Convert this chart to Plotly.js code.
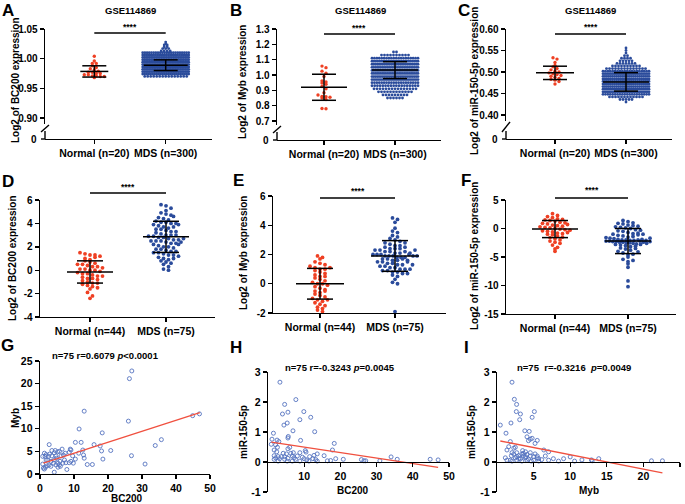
<!DOCTYPE html>
<html><head><meta charset="utf-8">
<script src="https://cdn.plot.ly/plotly-3.0.1.min.js"></script>
<style>html,body{margin:0;padding:0;background:#fff}#chart{width:685px;height:504px}</style>
</head><body><div id="chart"></div>
<script>
// ================= DATA =================
const datasetTitle = 'GSE114869';
const groupLabelsGSE = ['Normal (n=20)', 'MDS (n=300)'];
const groupLabelsOwn = ['Normal (n=44)', 'MDS (n=75)'];

// A: BC200 (GSE114869)
const aNormal = [1.004,0.996,0.992,0.992,0.988,0.985,0.983,0.981,0.979,0.977,0.977,0.975,0.975,0.973,0.973,0.971,0.971,0.970,0.970,0.968];
const aMdsLevels = [0.970,0.974,0.978,0.982,0.986,0.990,0.994,0.998,1.002,1.006,1.010,1.013,1.017,1.020,1.023,1.025,1.028];
const aMdsCounts = [15,24,28,29,29,29,29,28,28,26,22,4,3,2,2,1,1];
const aMean = [0.9785, 0.989];
const aSD = [0.0095, 0.009];

// B: Myb (GSE114869)
const bNormal = [1.058,1.048,1.025,1.012,0.990,0.962,0.955,0.948,0.940,0.925,0.910,0.885,0.870,0.860,0.858,0.855,0.850,0.840,0.782,0.780];
const bMdsLevels = [0.85,0.87,0.89,0.91,0.93,0.95,0.97,0.99,1.01,1.03,1.05,1.07,1.09,1.11,1.13,1.15];
const bMdsCounts = [6,9,12,15,18,20,24,27,28,28,28,27,26,20,10,2];
const bMean = [0.920, 1.032];
const bSD = [0.085, 0.055];

// C: miR-150-5p (GSE114869)
const cNormal = [0.533,0.530,0.522,0.515,0.512,0.508,0.505,0.502,0.500,0.498,0.496,0.494,0.492,0.490,0.488,0.485,0.483,0.481,0.478,0.472];
const cMdsLevels = [0.430,0.436,0.442,0.448,0.454,0.460,0.466,0.472,0.478,0.484,0.490,0.496,0.502,0.508,0.514,0.520,0.526,0.532,0.538,0.544,0.550,0.556];
const cMdsCounts = [1,5,12,20,24,24,25,25,25,25,25,24,20,14,10,7,5,4,2,1,1,1];
const cMean = [0.498, 0.477];
const cSD = [0.0155, 0.0215];

// D: BC200 (own cohort)
const dNormal = [1.5,1.4,1.3,1.3,1.2,1.0,0.9,0.8,0.7,0.6,0.5,0.5,0.4,0.3,0.3,0.2,0.1,0.1,0.0,0.0,-0.1,-0.2,-0.3,-0.3,-0.4,-0.5,-0.5,-0.6,-0.7,-0.7,-0.8,-0.9,-1.0,-1.1,-1.1,-1.2,-1.3,-1.4,-1.5,-1.6,-1.9,-2.2,-2.4,1.1];
const dMds = [5.6,5.5,5.3,5.1,4.9,4.8,4.7,4.5,4.4,4.3,4.2,4.1,4.1,4.0,3.9,3.8,3.7,3.6,3.5,3.5,3.4,3.3,3.2,3.1,3.0,3.0,2.9,2.9,2.8,2.8,2.7,2.6,2.6,2.5,2.5,2.5,2.4,2.3,2.3,2.2,2.1,2.0,2.0,1.9,1.8,1.8,1.7,1.6,1.5,1.5,1.4,1.3,1.3,1.2,1.1,1.0,0.9,0.8,0.7,0.6,0.5,0.3,0.1,0.0,3.7,3.3,2.7,2.2,4.6,1.6,3.9,3.0,2.4,1.0,4.0];
const dMean = [-0.15, 2.85];
const dSD = [0.95, 1.33];

// E: Myb (own cohort)
const eNormal = [1.9,1.8,1.7,1.5,1.4,1.3,1.2,1.1,1.0,1.0,0.9,0.8,0.7,0.6,0.5,0.4,0.3,0.2,0.1,0.0,0.0,-0.1,-0.2,-0.3,-0.4,-0.5,-0.6,-0.7,-0.8,-0.9,-1.0,-1.1,-1.2,-1.3,-1.4,-1.5,-1.6,-1.7,-1.8,-1.9,0.5,-0.5,1.1,-1.1];
const eMds = [4.5,4.4,4.2,3.8,3.6,3.5,3.3,3.1,3.0,2.9,2.8,2.7,2.6,2.6,2.5,2.4,2.4,2.3,2.3,2.2,2.2,2.1,2.1,2.0,2.0,2.0,1.9,1.9,1.9,1.8,1.8,1.8,1.7,1.7,1.6,1.6,1.5,1.5,1.4,1.4,1.3,1.3,1.2,1.2,1.1,1.1,1.0,1.0,0.9,0.9,0.8,0.8,0.7,0.7,0.6,0.5,0.3,0.1,0.0,-1.9,2.4,2.2,2.0,1.9,1.7,1.5,2.8,3.2,2.5,1.3,2.1,1.9,1.6,1.0,2.3];
const eMean = [0.0, 1.9];
const eSD = [1.05, 1.05];

// F: miR-150-5p (own cohort)
const fNormal = [2.6,2.3,2.1,1.9,1.7,1.6,1.5,1.4,1.3,1.1,1.0,0.9,0.8,0.6,0.5,0.4,0.3,0.2,0.1,0.0,-0.1,-0.2,-0.3,-0.4,-0.5,-0.6,-0.8,-0.9,-1.0,-1.1,-1.3,-1.5,-1.6,-1.8,-2.0,-2.2,-2.4,-2.6,-2.9,-3.3,-3.6,-4.0,0.7,-0.7];
const fMds = [1.4,1.2,1.0,0.9,0.8,0.6,0.5,0.3,0.2,0.1,0.0,-0.2,-0.4,-0.5,-0.7,-0.9,-1.0,-1.2,-1.3,-1.5,-1.6,-1.7,-1.8,-1.9,-2.0,-2.0,-2.1,-2.1,-2.2,-2.2,-2.3,-2.3,-2.4,-2.4,-2.5,-2.5,-2.6,-2.7,-2.8,-2.9,-3.0,-3.2,-3.4,-3.6,-3.8,-4.0,-4.3,-4.6,-5.0,-5.4,-5.8,-6.2,-6.8,-9.2,-10.2,-2.0,-2.2,-2.4,-1.4,-1.1,-0.8,-3.1,-4.5,-5.6,-2.6,-1.9,-0.3,0.4,-3.5,-4.1,-2.3,-2.1,-1.7,-2.8,-1.0];
const fMean = [-0.1, -2.2];
const fSD = [1.5, 2.2];

// G: BC200 vs Myb
const gBC200 = [27.0,26.3,13.0,11.5,26.0,44.9,46.9,18.3,35.7,33.9,26.9,30.9,20.8,18.5,18.1,17.7,15.9,15.4,13.9,13.0,12.8,12.1,10.4,12.6,11.4,10.4,9.1,8.6,8.9,9.8,8.6,7.9,6.9,6.5,5.9,6.0,5.3,5.2,5.7,4.7,4.2,3.5,2.8,2.7,2.5,1.8,1.5,1.3,2.3,3.2,4.2,4.9,7.2,7.6,9.1,0.8,1.0,1.6,2.1,2.7,3.2,4.2,5.7,4.7,6.7,1.3,4.0,5.3,6.2,7.4,9.6,3.5,4.5,1.8,0.8];
const gMyb = [22.8,21.1,13.9,9.96,11.7,12.9,13.3,9.1,7.6,6.3,4.05,2.2,5.2,3.3,5.1,6.2,6.5,2.1,2.1,3.5,4.2,7.0,7.0,5.3,4.6,3.3,5.3,4.8,5.5,2.4,2.5,1.0,4.2,5.5,2.8,1.7,1.5,4.9,5.0,4.0,4.7,4.0,4.4,6.5,3.9,4.3,3.9,4.6,3.1,2.8,3.1,3.5,3.1,2.5,2.8,2.2,1.3,1.5,1.8,2.0,1.7,0.4,2.0,2.0,2.4,1.1,2.4,2.4,4.0,4.6,4.0,5.2,5.2,3.1,3.9];
const gFitX = [1.0, 47.0];
const gFitY = [2.4, 13.6];
const gStat = 'n=75 r=0.6079 <i>p</i>&lt;0.0001';

// H: BC200 vs miR-150-5p
const hBC200 = [3.3,7.7,4.6,9.9,5.5,4.0,11.8,8.8,5.3,4.4,12.9,6.9,5.6,5.5,1.5,1.1,9.0,2.5,3.0,18.3,2.1,6.0,5.5,10.3,17.8,1.7,2.4,4.2,5.1,6.3,7.0,8.8,10.5,12.7,13.6,15.5,1.7,2.8,3.7,4.6,8.1,11.5,2.1,3.2,5.5,7.2,10.0,12.4,13.2,18.7,20.8,25.8,26.5,27.0,30.9,34.0,35.7,44.8,47.0,5.3,6.7,8.8,11.3,13.6,16.4,1.7,4.6,2.8,7.6,10.7,0.9,2.6,6.7,9.5,17.3];
const hMir = [2.66,2.08,1.92,1.68,1.66,1.60,1.49,1.41,1.30,1.23,1.01,1.04,0.85,0.80,0.96,0.76,0.72,0.73,0.68,0.62,0.57,0.49,0.44,0.38,0.40,0.40,0.34,0.29,0.27,0.29,0.31,0.31,0.33,0.22,0.27,0.21,0.21,0.18,0.18,0.18,0.20,0.18,0.14,0.11,0.12,0.14,0.11,0.11,0.08,0.11,0.09,0.08,0.04,0.04,0.04,0.17,0.09,0.09,0.07,0.03,0.03,0.03,0.03,0.03,0.04,0.09,0.09,0.03,0.09,0.07,0.59,0.49,0.20,0.16,0.05];
const hFitX = [0.9, 47.0];
const hFitY = [0.66, -0.18];
const hStat = 'n=75 r=-0.3243 <i>p</i>=0.0045';

// I: Myb vs miR-150-5p
const iMyb = [2.05,2.37,2.68,5.1,2.64,3.2,4.8,3.1,1.91,0.45,3.8,4.4,1.23,4.1,4.8,4.55,5.5,4.3,1.82,5.2,1.6,2.5,1.36,6.4,3.5,3.9,7.05,2.05,2.7,4.55,5.2,2.3,3.4,4.1,1.96,2.96,3.6,5.0,6.6,10.0,1.14,2.5,3.9,5.5,7.7,9.1,13.9,3.2,4.3,6.1,11.6,12.9,1.82,2.7,5.0,7.05,13.0,21.1,22.6,3.4,4.7,5.7,8.4,2.05,4.1,2.96,3.6,2.3,5.7,1.36,4.55,5.5,2.7,3.9,10.6];
const iMir = [2.66,2.09,1.92,1.68,1.68,1.60,1.49,1.41,1.30,1.23,1.04,1.02,0.96,0.84,0.79,0.76,0.72,0.71,0.68,0.62,0.51,0.49,0.40,0.40,0.38,0.34,0.34,0.31,0.31,0.31,0.27,0.26,0.26,0.25,0.21,0.21,0.20,0.18,0.20,0.17,0.14,0.14,0.14,0.14,0.11,0.11,0.11,0.10,0.10,0.08,0.07,0.07,0.06,0.06,0.06,0.06,0.04,0.04,0.04,0.03,0.03,0.03,0.03,0.03,0.06,0.12,0.29,0.46,0.11,0.06,0.20,0.20,0.18,0.18,0.03];
const iFitX = [0.45, 22.6];
const iFitY = [0.70, -0.36];
const iStat = 'n=75\u00a0 r=-0.3216\u00a0 <i>p</i>=0.0049';

// tick values
const aTicks = [0.90,0.95,1.00,1.05];
const bTicks = [0.7,0.8,0.9,1.0,1.1,1.2,1.3];
const cTicks = [0.40,0.45,0.50,0.55,0.60];
const dTicks = [-4,-2,0,2,4,6];
const eTicks = [-2,0,2,4,6];
const fTicks = [-15,-10,-5,0,5];
const gXTicks = [0,10,20,30,40,50], gYTicks = [0,5,10,15,20,25];
const hXTicks = [10,20,30,40,50], hYTicks = [-1,0,1,2,3];
const iXTicks = [5,10,15,20,25], iYTicks = [-1,0,1,2,3];
const breakLabel = '0';   // label at the foot of the broken y-axes (A-C)

// ================= STYLE / LAYOUT =================
const W = 685, H = 504;
const FONT = "'Liberation Sans', Arial, Helvetica, sans-serif";
const RED = '#ef4023', BLUE = '#2a4b9b', SC_BLUE = '#5573c0', FIT_RED = '#f0503f';
const px = v => v / W, py = v => 1 - v / H;

function expand(levels, counts){ const o=[]; levels.forEach((l,i)=>{ for(let k=0;k<counts[i];k++) o.push(l); }); return o; }
function fmt(d){ return v => (v<0?'-':'') + Math.abs(v).toFixed(d); }

// brk: [bottom of upper axis segment, top of lower segment]; yBot = x-axis position
const dotPanels = [
 {id:1, letter:'A', lx:8, ly:10, yx:45, xEnd:212, c0:94.3, c1:165.7, yTop:29, vTop:1.05, yRef:118, vRef:0.90, yBot:139, brk:[124,131],
  ticks:aTicks, tf:fmt(2), labels:groupLabelsGSE, title:'Log2 of BC200 expression', tx:15, ty:80, sig:33, star:27, head:{x:130,y:10},
  groups:[{vals:aNormal, color:RED, rowH:3, dx:4, maxW:26, ms:3.4, mh:14, ch:12}, {vals:expand(aMdsLevels,aMdsCounts), level:true, color:BLUE, maxW:46, ms:2.8, mh:22, ch:12}], mean:aMean, sd:aSD},
 {id:2, letter:'B', lx:236, ly:10, yx:277, xEnd:441, c0:324, c1:395, yTop:29, vTop:1.3, yRef:121, vRef:0.7, yBot:140, brk:[125,132],
  ticks:bTicks, tf:fmt(1), labels:groupLabelsGSE, title:'Log2 of Myb expression', tx:243, ty:82, sig:34, star:28, head:{x:360,y:10},
  groups:[{vals:bNormal, color:RED, rowH:3, dx:4, maxW:26, ms:3.4, mh:23, ch:12}, {vals:expand(bMdsLevels,bMdsCounts), level:true, color:BLUE, maxW:46, ms:2.8, mh:23, ch:12}], mean:bMean, sd:bSD},
 {id:3, letter:'C', lx:464, ly:10, yx:506, xEnd:672, c0:555, c1:626, yTop:29, vTop:0.60, yRef:115, vRef:0.40, yBot:139, brk:[121,131],
  ticks:cTicks, tf:fmt(2), labels:groupLabelsGSE, title:'Log2 of miR-150-5p expression', tx:475, ty:81, sig:34, star:27, head:{x:590,y:10},
  groups:[{vals:cNormal, color:RED, rowH:3, dx:4, maxW:26, ms:3.4, mh:19, ch:12}, {vals:expand(cMdsLevels,cMdsCounts), level:true, color:BLUE, maxW:46, ms:2.8, mh:23, ch:12}], mean:cMean, sd:cSD},
 {id:4, letter:'D', lx:8, ly:181, yx:40, xEnd:215, c0:90, c1:166, yTop:200, vTop:6, yRef:317, vRef:-4, yBot:317,
  ticks:dTicks, tf:fmt(0), labels:groupLabelsOwn, title:'Log2 of BC200 expression', tx:12, ty:258, sig:193, star:187,
  groups:[{vals:dNormal, color:RED, rowH:4, dx:5, maxW:40, ms:3.8, mh:23, ch:13}, {vals:dMds, color:BLUE, rowH:4, dx:5, maxW:44, ms:3.8, mh:23, ch:13}], mean:dMean, sd:dSD},
 {id:5, letter:'E', lx:238, ly:180, yx:273, xEnd:446, c0:320, c1:395, yTop:196, vTop:6, yRef:313, vRef:-2, yBot:313,
  ticks:eTicks, tf:fmt(0), labels:groupLabelsOwn, title:'Log2 of Myb expression', tx:243, ty:253, sig:198, star:191,
  groups:[{vals:eNormal, color:RED, rowH:4, dx:5, maxW:40, ms:3.8, mh:24, ch:13}, {vals:eMds, color:BLUE, rowH:4, dx:5, maxW:44, ms:3.8, mh:24, ch:13}], mean:eMean, sd:eSD},
 {id:6, letter:'F', lx:466, ly:180, yx:506, xEnd:676, c0:555, c1:628, yTop:200, vTop:5, yRef:314, vRef:-15, yBot:314,
  ticks:fTicks, tf:fmt(0), labels:groupLabelsOwn, title:'Log2 of miR-150-5p expression', tx:474, ty:256, sig:198, star:190,
  groups:[{vals:fNormal, color:RED, rowH:3.5, dx:5, maxW:38, ms:3.8, mh:23, ch:13}, {vals:fMds, color:BLUE, rowH:3.5, dx:5, maxW:44, ms:3.8, mh:23, ch:13}], mean:fMean, sd:fSD}
];

const scatterPanels = [
 {id:7, letter:'G', lx:8, ly:345, x:gBC200, y:gMyb, fx:gFitX, fy:gFitY, stat:gStat, sx:105, sy:355,
  xd:[40,210], xr:[0,50], xt:gXTicks, yd:[361,474], yr:[0,25], yt:gYTicks, xpos:null,
  xtitle:'BC200', xtx:127, xty:498, ytitle:'Myb', ytx:15, yty:418},
 {id:8, letter:'H', lx:236, ly:347, x:hBC200, y:hMir, fx:hFitX, fy:hFitY, stat:hStat, sx:340, sy:367,
  xd:[268,449], xr:[0,50], xt:hXTicks, yd:[372,492], yr:[-1,3], yt:hYTicks, xpos:462,
  xtitle:'BC200', xtx:353, xty:490, ytitle:'miR-150-5p', ytx:243, yty:432},
 {id:9, letter:'I', lx:466, ly:347, x:iMyb, y:iMir, fx:iFitX, fy:iFitY, stat:iStat, sx:574, sy:367,
  xd:[497,680], xr:[0,25], xt:iXTicks, yd:[372,492], yr:[-1,3], yt:iYTicks, xpos:462,
  xtitle:'Myb', xtx:589, xty:490, ytitle:'miR-150-5p', ytx:471, yty:432}
];

const tickFont = {family:FONT, size:10, color:'#000', weight:'bold'};
const axBase = {showline:true, linecolor:'#000', linewidth:1.4, ticks:'outside', ticklen:4, tickwidth:1.4, tickcolor:'#000',
  showgrid:false, zeroline:false, fixedrange:true, automargin:false, tickfont:tickFont};

const traces = [], layout = {width:W, height:H, margin:{l:0,r:0,t:0,b:0}, paper_bgcolor:'#fff', plot_bgcolor:'rgba(0,0,0,0)',
  showlegend:false, annotations:[], shapes:[], font:{family:FONT, color:'#000'}};
const sfx = n => n===1 ? '' : String(n);
const ann = (x,y,text,size,extra) => layout.annotations.push(Object.assign({xref:'paper',yref:'paper',x:px(x),y:py(y),text:text,showarrow:false,
  xanchor:'center',yanchor:'middle',font:{family:FONT,size:size,color:'#000',weight:'bold'}}, extra||{}));
const seg = (x0,y0,x1,y1) => layout.shapes.push({type:'line', xref:'paper', yref:'paper', layer:'above',
  x0:px(x0), y0:py(y0), x1:px(x1), y1:py(y1), line:{color:'#000', width:1.4}});

function swarm(vals, center, xu, yu, g){
  const rows = new Map();
  vals.forEach(v => { const k = g.level ? v : Math.round(v*yu/g.rowH); if(!rows.has(k)) rows.set(k,[]); rows.get(k).push(v); });
  const xs=[], ys=[];
  rows.forEach(arr => { const n=arr.length; const dx = Math.min(g.level ? 3 : g.dx, g.maxW/Math.max(1,n-1));
    arr.forEach((v,i)=>{ xs.push(center + (i-(n-1)/2)*dx/xu); ys.push(v); }); });
  return {x:xs, y:ys};
}

dotPanels.forEach(p => {
  const s = sfx(p.id), xu = p.c1 - p.c0, yu = (p.yRef - p.yTop)/(p.vTop - p.vRef);
  const mainBot = p.brk ? p.brk[0] : p.yBot;
  const vBot = p.vRef - (mainBot - p.yRef)/yu;
  const xa = Object.assign({}, axBase, {domain:[px(p.yx), px(p.xEnd)], range:[(p.yx-p.c0)/xu, 1+(p.xEnd-p.c1)/xu],
    tickvals:[0,1], ticktext:p.labels, tickfont:Object.assign({},tickFont,{size:10.5})});
  if (p.brk) { xa.anchor = 'free'; xa.position = py(p.yBot); } else xa.anchor = 'y'+s;
  layout['xaxis'+s] = xa;
  layout['yaxis'+s] = Object.assign({}, axBase, {domain:[py(mainBot), py(p.yTop)], range:[vBot, p.vTop], anchor:'x'+s,
    tickvals:p.ticks, ticktext:p.ticks.map(p.tf)});
  if (p.brk) {
    // broken axis: short lower segment with its "0" tick, and a slash at the break
    seg(p.yx, p.brk[1], p.yx, p.yBot);
    seg(p.yx-4, p.yBot, p.yx, p.yBot);
    seg(p.yx-4, p.brk[1]+1, p.yx+4, p.brk[0]+1);
    ann(p.yx-6, p.yBot, breakLabel, 10, {xanchor:'right'});
  }
  p.groups.forEach((g,gi) => {
    const sw = swarm(g.vals, gi, xu, yu, g);
    traces.push({type:'scatter', mode:'markers', x:sw.x, y:sw.y, xaxis:'x'+s, yaxis:'y'+s, cliponaxis:false, hoverinfo:'skip',
      marker:{color:g.color, size:g.ms, line:{width:0}}});
  });
  p.groups.forEach((g,gi) => {
    const m = p.mean[gi], sd = p.sd[gi], mh = g.mh/xu, ch = g.ch/xu;
    traces.push({type:'scatter', mode:'lines', xaxis:'x'+s, yaxis:'y'+s, cliponaxis:false, hoverinfo:'skip',
      x:[gi-mh, gi+mh, null, gi, gi, null, gi-ch, gi+ch, null, gi-ch, gi+ch],
      y:[m, m, null, m-sd, m+sd, null, m+sd, m+sd, null, m-sd, m-sd], line:{color:'#000', width:1.5}});
  });
  layout.shapes.push({type:'line', xref:'paper', yref:'paper', x0:px(p.c0), x1:px(p.c1), y0:py(p.sig), y1:py(p.sig), line:{color:'#000', width:1.3}});
  ann((p.c0+p.c1)/2, p.star, '****', 8.5);
  if (p.head) ann(p.head.x, p.head.y, datasetTitle, 9.5);
  ann(p.lx, p.ly, p.letter, 17);
  ann(p.tx, p.ty, p.title, 10, {textangle:-90});
});

scatterPanels.forEach(p => {
  const s = sfx(p.id);
  const xa = Object.assign({}, axBase, {domain:[px(p.xd[0]), px(p.xd[1])], range:p.xr, tickvals:p.xt, ticktext:p.xt.map(String),
    tickfont:Object.assign({},tickFont,{size:10.5})});
  if (p.xpos === null) xa.anchor = 'y'+s; else { xa.anchor = 'free'; xa.position = py(p.xpos); }
  layout['xaxis'+s] = xa;
  layout['yaxis'+s] = Object.assign({}, axBase, {domain:[py(p.yd[1]), py(p.yd[0])], range:p.yr, anchor:'x'+s,
    tickvals:p.yt, ticktext:p.yt.map(String), tickfont:Object.assign({},tickFont,{size:10.5})});
  traces.push({type:'scatter', mode:'markers', x:p.x, y:p.y, xaxis:'x'+s, yaxis:'y'+s, cliponaxis:false, hoverinfo:'skip',
    marker:{symbol:'circle-open', size:4, color:SC_BLUE, line:{width:0.9, color:SC_BLUE}}});
  traces.push({type:'scatter', mode:'lines', x:p.fx, y:p.fy, xaxis:'x'+s, yaxis:'y'+s, cliponaxis:false, hoverinfo:'skip',
    line:{color:FIT_RED, width:1.3}});
  ann(p.sx, p.sy, p.stat, 9.5);
  ann(p.lx, p.ly, p.letter, 17);
  ann(p.xtx, p.xty, p.xtitle, 10);
  ann(p.ytx, p.yty, p.ytitle, 10, {textangle:-90});
});

Plotly.newPlot('chart', traces, layout, {staticPlot:true, displayModeBar:false});
</script>
</body></html>
